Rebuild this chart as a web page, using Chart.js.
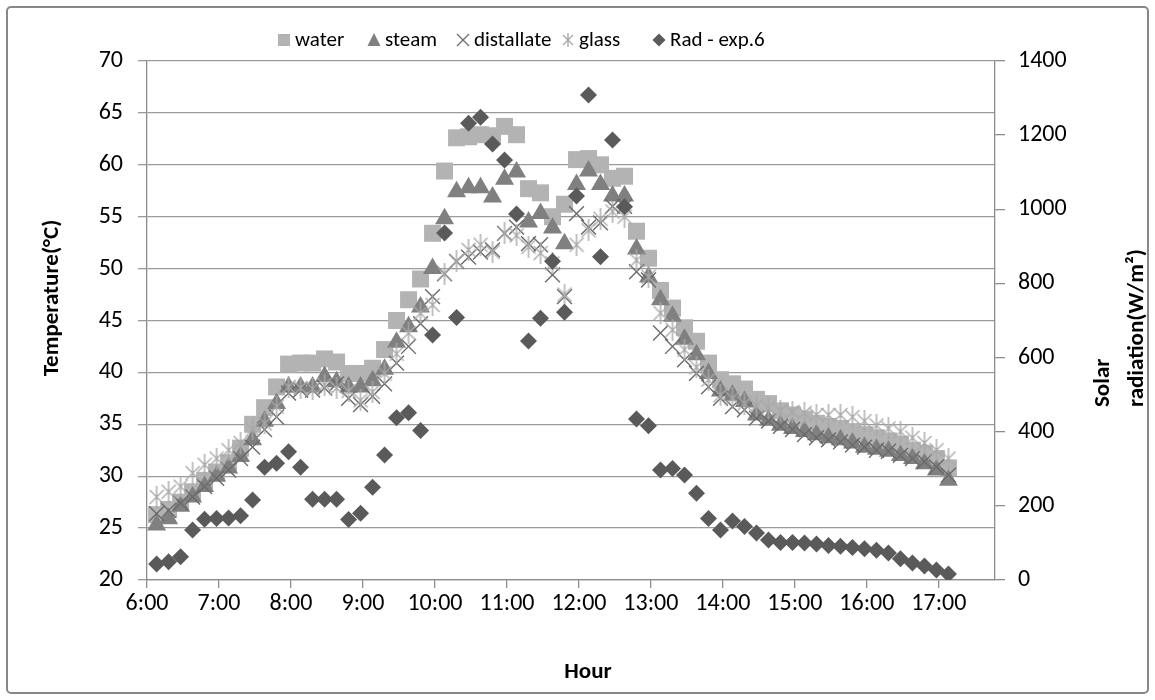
<!DOCTYPE html>
<html>
<head>
<meta charset="utf-8">
<script src="https://cdn.jsdelivr.net/npm/chart.js@4"></script>
<style>
  html, body { margin: 0; padding: 0; background: #fff; }
  #wrap { width: 1155px; height: 700px; }
</style>
</head>
<body>
<div id="wrap"><canvas id="myChart"></canvas></div>
<script>
// measurement times (every 10 min)
var times = ['6:08', '6:18', '6:28', '6:38', '6:48', '6:58', '7:08', '7:18', '7:28', '7:38',
    '7:48', '7:58', '8:08', '8:18', '8:28', '8:38', '8:48', '8:58', '9:08', '9:18',
    '9:28', '9:38', '9:48', '9:58', '10:08', '10:18', '10:28', '10:38', '10:48', '10:58',
    '11:08', '11:18', '11:28', '11:38', '11:48', '11:58', '12:08', '12:18', '12:28', '12:38',
    '12:48', '12:58', '13:08', '13:18', '13:28', '13:38', '13:48', '13:58', '14:08', '14:18',
    '14:28', '14:38', '14:48', '14:58', '15:08', '15:18', '15:28', '15:38', '15:48', '15:58',
    '16:08', '16:18', '16:28', '16:38', '16:48', '16:58', '17:08'];

var water = [26.3, 26.8, 27.5, 28.5, 29.6, 30.4, 31.3, 32.7, 35.0, 36.6,
    38.6, 40.8, 40.9, 40.9, 41.3, 41.0, 39.9, 39.9, 40.4, 42.2,
    45.0, 47.0, 49.0, 53.4, 59.4, 62.6, 62.7, 62.9, 62.8, 63.7,
    62.9, 57.7, 57.3, 55.0, 56.2, 60.5, 60.6, 60.0, 58.7, 58.9,
    53.6, 51.0, 47.9, 46.2, 44.3, 43.0, 40.9, 39.3, 38.9, 38.4,
    37.4, 37.0, 36.3, 35.9, 35.5, 35.1, 34.8, 34.6, 34.3, 34.0,
    33.7, 33.4, 33.1, 32.5, 32.2, 31.7, 30.8];

var steam = [25.3, 25.9, 27.1, 28.0, 29.0, 30.0, 30.8, 31.9, 33.5, 35.3,
    37.0, 38.6, 38.6, 38.6, 39.6, 39.1, 38.6, 38.6, 39.2, 40.3,
    42.9, 44.4, 46.3, 50.0, 54.8, 57.4, 57.8, 57.8, 56.9, 58.6,
    59.3, 54.5, 55.3, 53.9, 52.4, 58.1, 59.4, 58.1, 57.0, 57.0,
    51.9, 49.2, 47.0, 45.4, 43.2, 41.7, 39.9, 38.2, 37.8, 37.2,
    35.9, 35.4, 34.9, 34.6, 34.3, 34.0, 33.7, 33.5, 33.2, 32.8,
    32.6, 32.4, 32.0, 31.7, 31.2, 30.6, 29.6];

var distillate = [26.4, 26.7, 27.4, 28.0, 29.0, 29.8, 30.6, 31.7, 32.8, 34.5,
    35.7, 38.0, 38.3, 38.3, 38.5, 38.9, 37.5, 36.9, 37.7, 38.9,
    40.9, 42.5, 44.7, 47.3, 49.5, 50.7, 51.1, 51.6, 51.8, 53.4,
    54.0, 52.4, 52.3, 49.4, 47.3, 55.3, 54.0, 54.4, 56.0, 56.0,
    49.7, 48.9, 43.8, 42.5, 41.2, 39.9, 38.6, 37.5, 36.7, 36.4,
    35.6, 35.3, 34.8, 34.5, 34.0, 33.7, 33.5, 33.3, 33.0, 32.8,
    32.5, 32.4, 32.0, 31.7, 31.4, 30.9, 30.1];

var glass = [28.0, 28.5, 29.0, 30.3, 31.1, 31.7, 32.5, 33.2, 34.5, 35.1,
    36.7, 38.6, 38.5, 38.4, 38.8, 38.5, 38.2, 37.3, 38.1, 39.9,
    41.8, 43.8, 45.7, 46.5, 49.5, 50.7, 51.8, 52.3, 51.6, 53.4,
    53.2, 52.1, 51.5, 50.5, 47.5, 52.3, 53.7, 54.8, 55.5, 55.0,
    50.8, 49.2, 45.7, 44.1, 42.2, 40.5, 39.3, 37.8, 37.5, 37.0,
    36.8, 36.6, 36.3, 36.2, 36.1, 35.9, 35.9, 35.9, 35.7, 35.3,
    34.9, 34.6, 34.3, 33.7, 33.2, 32.5, 31.7];

var radiation = [43, 49, 63, 135, 164, 166, 167, 173, 216, 304,
    315, 346, 304, 218, 218, 218, 163, 180, 250, 337,
    438, 451, 403, 661, 936, 708, 1232, 1248, 1176, 1133,
    987, 645, 706, 860, 722, 1036, 1308, 872, 1187, 1007,
    434, 416, 297, 301, 283, 234, 166, 135, 159, 144,
    127, 108, 101, 101, 100, 97, 93, 91, 88, 84,
    80, 73, 57, 46, 38, 27, 16];

var hourTicks = [6, 7, 8, 9, 10, 11, 12, 13, 14, 15, 16, 17];
var tempTicks = [20, 25, 30, 35, 40, 45, 50, 55, 60, 65, 70];
var radTicks = [0, 200, 400, 600, 800, 1000, 1200, 1400];
var legendLabels = ['water', 'steam', 'distallate', 'glass', 'Rad - exp.6'];

var FONT = 'Carlito, Lato, sans-serif';

function toHours(t) {
    var p = t.split(':');
    return +p[0] + (+p[1]) / 60;
}
function pts(vals) {
    return vals.map(function (v, i) { return { x: toHours(times[i]), y: v }; });
}
function tickList(vals) {
    return vals.map(function (v) { return { value: v }; });
}

// asterisk marker (x with vertical bar) like the Excel one
function makeAsterisk(w, h, color) {
    var c = document.createElement('canvas');
    c.width = w; c.height = h;
    var g = c.getContext('2d');
    g.strokeStyle = color;
    g.lineWidth = 1.4;
    g.beginPath();
    var m = (h - w) / 2;
    g.moveTo(1, m + 1); g.lineTo(w - 1, h - m - 1);
    g.moveTo(w - 1, m + 1); g.lineTo(1, h - m - 1);
    g.moveTo(w / 2, 0); g.lineTo(w / 2, h);
    g.stroke();
    return c;
}
var asterisk = makeAsterisk(16, 22, '#a8a8a8');
var asteriskSmall = makeAsterisk(12, 14, '#a8a8a8');

var cWater = '#b3b3b3', cSteam = '#808080', cDist = '#6a6a6a', cRad = '#5a5a5a';

var decor = {
    id: 'decor',
    beforeDraw: function (chart) {
        var ctx = chart.ctx;
        ctx.save();
        ctx.fillStyle = '#fff';
        ctx.fillRect(0, 0, chart.width, chart.height);
        ctx.strokeStyle = '#878787';
        ctx.lineWidth = 2;
        ctx.beginPath();
        ctx.roundRect(7, 7, chart.width - 14, chart.height - 14, 4);
        ctx.stroke();
        ctx.restore();
    },
    afterDraw: function (chart) {
        var ctx = chart.ctx;
        ctx.save();
        ctx.fillStyle = '#000';
        ctx.font = 'bold 23px ' + FONT;
        ctx.textBaseline = 'middle';
        // left title
        ctx.save();
        ctx.translate(52, 298);
        ctx.rotate(-Math.PI / 2);
        ctx.textAlign = 'center';
        ctx.fillText('Temperature(°C)', 0, 0);
        ctx.restore();
        // right title (two lines, starting at the same point)
        ctx.save();
        ctx.translate(1103, 407);
        ctx.rotate(-Math.PI / 2);
        ctx.textAlign = 'left';
        ctx.fillText('Solar', 0, 0);
        ctx.fillText('radiation(W/m²)', 0, 34);
        ctx.restore();
        // x title
        ctx.textAlign = 'center';
        ctx.fillText('Hour', 588, 672);

        // legend
        var y = 40;
        var xs = [284, 374, 463, 568, 659];
        ctx.font = '21px ' + FONT;
        ctx.textAlign = 'left';
        ctx.fillStyle = cWater;
        ctx.fillRect(xs[0] - 6, y - 6, 12, 12);
        ctx.fillStyle = cSteam;
        ctx.beginPath();
        ctx.moveTo(xs[1], y - 7); ctx.lineTo(xs[1] + 6.5, y + 6); ctx.lineTo(xs[1] - 6.5, y + 6);
        ctx.closePath(); ctx.fill();
        ctx.strokeStyle = cDist; ctx.lineWidth = 1.3;
        ctx.beginPath();
        ctx.moveTo(xs[2] - 6, y - 6); ctx.lineTo(xs[2] + 6, y + 6);
        ctx.moveTo(xs[2] + 6, y - 6); ctx.lineTo(xs[2] - 6, y + 6);
        ctx.stroke();
        ctx.drawImage(asteriskSmall, xs[3] - 6, y - 7);
        ctx.fillStyle = cRad;
        ctx.beginPath();
        ctx.moveTo(xs[4] - 6.5, y); ctx.lineTo(xs[4], y - 6.5); ctx.lineTo(xs[4] + 6.5, y); ctx.lineTo(xs[4], y + 6.5);
        ctx.closePath(); ctx.fill();
        ctx.fillStyle = '#000';
        for (var i = 0; i < legendLabels.length; i++) {
            ctx.fillText(legendLabels[i], xs[i] + 11, y + 1);
        }
        ctx.restore();
    }
};

var tickFont = { family: FONT, size: 24 };

var ctx = document.getElementById('myChart').getContext('2d');

var myChart = new Chart(ctx, {
    type: 'scatter',
    data: {
        datasets: [{
            label: legendLabels[0],
            data: pts(water),
            yAxisID: 'y',
            pointStyle: 'rect',
            pointRadius: 12,
            backgroundColor: cWater,
            borderColor: cWater,
            borderWidth: 0,
            order: 5
        }, {
            label: legendLabels[1],
            data: pts(steam),
            yAxisID: 'y',
            pointStyle: 'triangle',
            pointRadius: 11,
            backgroundColor: cSteam,
            borderColor: cSteam,
            borderWidth: 0,
            order: 4
        }, {
            label: legendLabels[2],
            data: pts(distillate),
            yAxisID: 'y',
            pointStyle: 'crossRot',
            pointRadius: 10.5,
            borderColor: cDist,
            borderWidth: 1.4,
            order: 3
        }, {
            label: legendLabels[3],
            data: pts(glass),
            yAxisID: 'y',
            pointStyle: asterisk,
            order: 2
        }, {
            label: legendLabels[4],
            data: pts(radiation),
            yAxisID: 'y1',
            pointStyle: 'rectRot',
            pointRadius: 8.5,
            backgroundColor: cRad,
            borderColor: cRad,
            borderWidth: 0,
            order: 1
        }]
    },
    options: {
        responsive: true,
        maintainAspectRatio: false,
        animation: false,
        layout: { padding: { top: 61, left: 0, right: 0, bottom: 0 } },
        plugins: {
            legend: { display: false },
            tooltip: { enabled: false }
        },
        scales: {
            x: {
                type: 'linear',
                min: 6,
                max: 17.78,
                afterFit: function (s) { s.height = 120; },
                afterBuildTicks: function (s) { s.ticks = tickList(hourTicks); },
                ticks: {
                    callback: function (v) { return Math.round(v) + ':00'; },
                    color: '#000',
                    font: tickFont,
                    padding: 2,
                    maxRotation: 0,
                    autoSkip: false
                },
                grid: { drawOnChartArea: false, tickLength: 8, color: '#8c8c8c', lineWidth: 1.3 },
                border: { color: '#8c8c8c', width: 1.3 }
            },
            y: {
                position: 'left',
                min: 20,
                max: 70,
                afterFit: function (s) { s.width = 147; },
                afterBuildTicks: function (s) { s.ticks = tickList(tempTicks); },
                ticks: {
                    callback: function (v) { return String(v); },
                    color: '#000',
                    font: tickFont,
                    padding: 15
                },
                grid: { tickLength: 9, color: '#9a9a9a', lineWidth: 1.3 },
                border: { color: '#8c8c8c', width: 1.3 }
            },
            y1: {
                position: 'right',
                min: 0,
                max: 1400,
                afterFit: function (s) { s.width = 160; },
                afterBuildTicks: function (s) { s.ticks = tickList(radTicks); },
                ticks: {
                    callback: function (v) { return String(v); },
                    color: '#000',
                    font: tickFont,
                    padding: 13
                },
                grid: { drawOnChartArea: false, tickLength: 10, color: '#8c8c8c', lineWidth: 1.3 },
                border: { color: '#8c8c8c', width: 1.3 }
            }
        }
    },
    plugins: [decor]
});
</script>
</body>
</html>
